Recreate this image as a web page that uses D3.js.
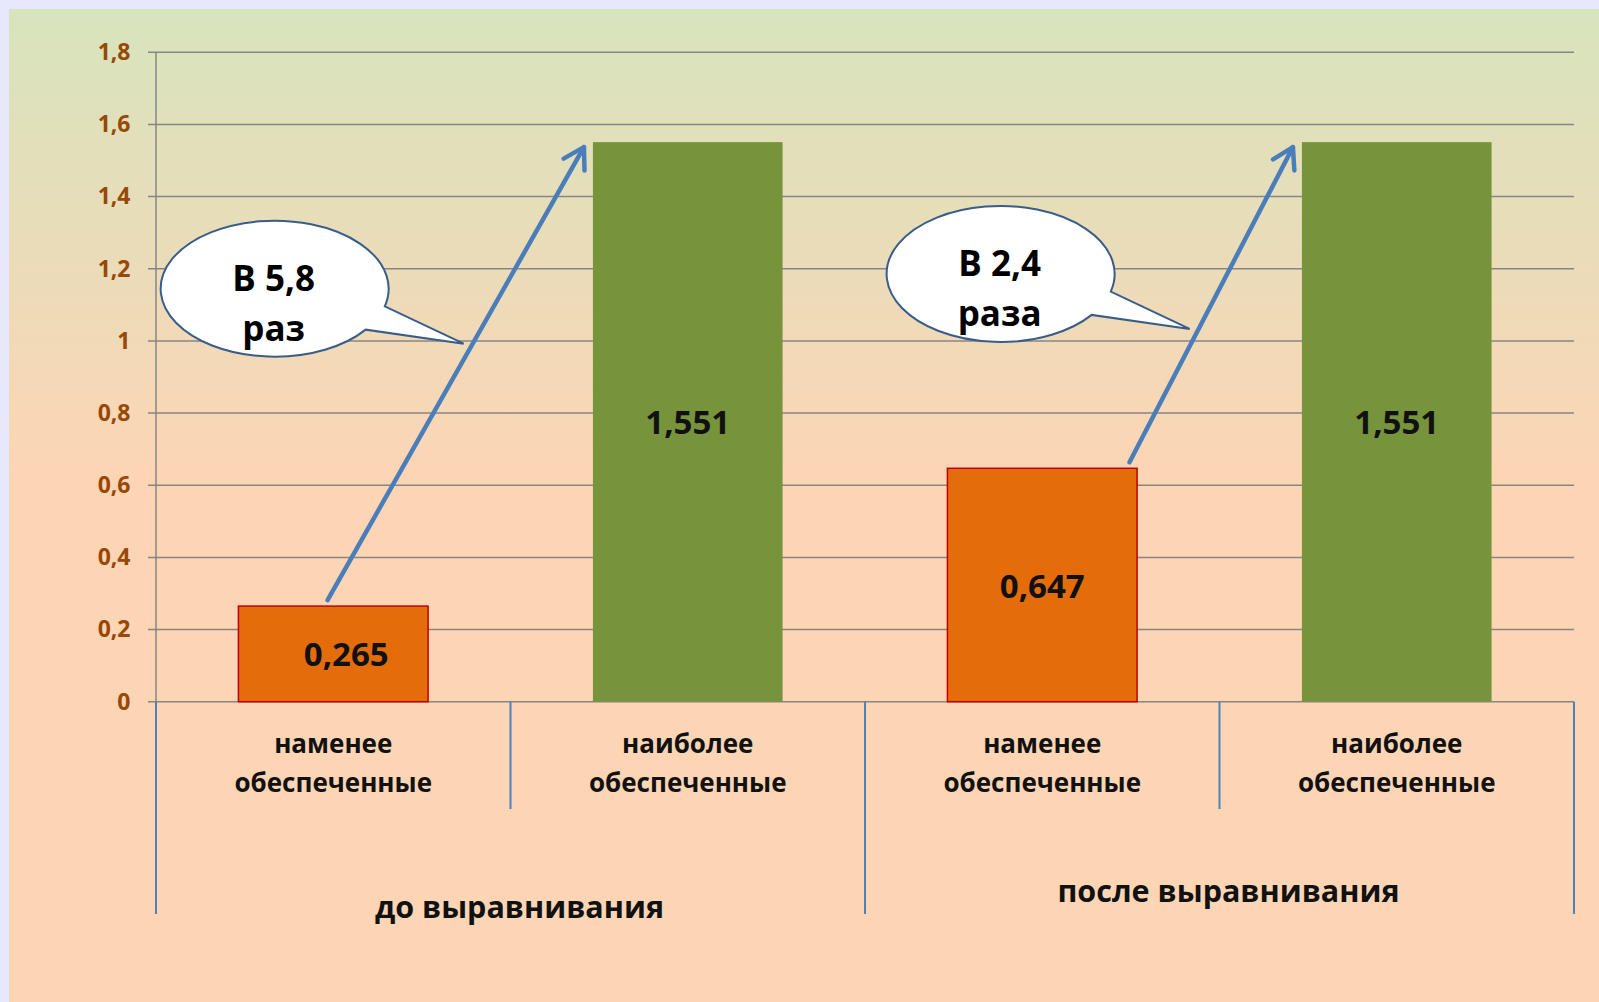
<!DOCTYPE html>
<meta charset="utf-8">
<style>
  body { margin: 0; background: #e8e8fc; }
  svg { display: block; font-family: "Open Sans", sans-serif; font-weight: bold; }
</style>
<svg width="1599" height="1002"></svg>
<script src="https://d3js.org/d3.v7.min.js"></script>
<script>

var groups = ["до выравнивания", "после выравнивания"],
    categories = ["наменее\nобеспеченные", "наиболее\nобеспеченные"],
    values = [0.265, 1.551, 0.647, 1.551],
    yTicks = [0, 0.2, 0.4, 0.6, 0.8, 1, 1.2, 1.4, 1.6, 1.8],
    callouts = ["В 5,8\nраз", "В 2,4\nраза"];

var svg = d3.select("svg"),
    width = +svg.attr("width"),
    height = +svg.attr("height"),
    plotLeft = 156, plotRight = 1574, plotTop = 52.3, zeroY = 701.7;

var locale = d3.formatLocale({decimal: ",", thousands: " ", grouping: [3], currency: ["", ""]}),
    fmtTick = locale.format("~g"),
    fmtValue = locale.format(".3f");

var rows = values.map(function(v, i) {
  return {i: i, value: v, group: groups[Math.floor(i / 2)], cat: categories[i % 2], low: i % 2 === 0};
});

var x = d3.scaleBand()
    .domain(d3.range(values.length))
    .range([plotLeft, plotRight])
    .paddingInner(0.465)
    .paddingOuter(0.2325);

var xGroup = d3.scaleBand().domain(groups).range([plotLeft, plotRight]);

var y = d3.scaleLinear().domain([0, 1.8]).range([zeroY, plotTop]);

// background panel
var defs = svg.append("defs");
var grad = defs.append("linearGradient").attr("id", "bg").attr("x1", 0).attr("y1", 0).attr("x2", 0).attr("y2", 1);
grad.append("stop").attr("offset", 0).attr("stop-color", "#d7e4bd");
grad.append("stop").attr("offset", 0.47).attr("stop-color", "#fcd5b5");
grad.append("stop").attr("offset", 1).attr("stop-color", "#fcd5b5");

svg.append("rect")
    .attr("x", 9).attr("y", 9)
    .attr("width", width - 9).attr("height", height - 9)
    .attr("fill", "url(#bg)");

defs.append("marker")
    .attr("id", "head")
    .attr("markerUnits", "userSpaceOnUse")
    .attr("viewBox", "-26 -16 30 32")
    .attr("refX", 0).attr("refY", 0)
    .attr("markerWidth", 30).attr("markerHeight", 32)
    .attr("orient", "auto")
  .append("path")
    .attr("d", "M-20,-12L0,0L-20,12")
    .attr("fill", "none")
    .attr("stroke", "#4a7ebb")
    .attr("stroke-width", 4.5)
    .attr("stroke-linecap", "round")
    .attr("stroke-linejoin", "round");

// gridlines
svg.append("g")
  .selectAll("line")
  .data(yTicks)
  .join("line")
    .attr("x1", plotLeft - 8).attr("x2", plotRight)
    .attr("y1", function(d) { return y(d); })
    .attr("y2", function(d) { return y(d); })
    .attr("stroke", "#868686")
    .attr("stroke-width", 1.5);

svg.append("line")
    .attr("x1", plotLeft).attr("x2", plotLeft)
    .attr("y1", y(1.8)).attr("y2", y(0))
    .attr("stroke", "#868686")
    .attr("stroke-width", 1.5);

// y labels
var yAxis = svg.append("g")
    .attr("transform", "translate(" + plotLeft + ",0)")
    .call(d3.axisLeft(y).tickValues(yTicks).tickFormat(fmtTick).tickSize(0).tickPadding(25.5));
yAxis.select(".domain").remove();
yAxis.selectAll("text")
    .attr("fill", "#984807")
    .style("font-size", "23px")
    .style("font-family", "'Open Sans', sans-serif")
    .style("font-weight", "bold");

// category / group separators
var step = x.step();
svg.append("g")
  .selectAll("line")
  .data(d3.range(values.length + 1))
  .join("line")
    .attr("x1", function(k) { return plotLeft + k * step; })
    .attr("x2", function(k) { return plotLeft + k * step; })
    .attr("y1", zeroY)
    .attr("y2", function(k) { return k % 2 === 0 ? 914 : 809; })
    .attr("stroke", "#4f81bd")
    .attr("stroke-width", 2);

// bars
svg.append("g")
  .selectAll("rect")
  .data(rows)
  .join("rect")
    .attr("x", function(d) { return x(d.i); })
    .attr("y", function(d) { return y(d.value); })
    .attr("width", x.bandwidth())
    .attr("height", function(d) { return y(0) - y(d.value); })
    .attr("fill", function(d) { return d.low ? "#e46c0a" : "#77933c"; })
    .attr("stroke", function(d) { return d.low ? "#c00000" : "none"; })
    .attr("stroke-width", 1.5);

// value labels (first one sits a bit right of centre, as in the slide)
var labelDx = [13, 0, 0, 0];
svg.append("g")
  .selectAll("text")
  .data(rows)
  .join("text")
    .attr("x", function(d) { return x(d.i) + x.bandwidth() / 2 + labelDx[d.i]; })
    .attr("y", function(d) { return (y(d.value) + y(0)) / 2; })
    .attr("dy", "0.38em")
    .attr("text-anchor", "middle")
    .attr("font-size", 33)
    .attr("fill", "#111")
    .text(function(d) { return fmtValue(d.value); });

// category labels
var catText = svg.append("g")
  .selectAll("text")
  .data(rows)
  .join("text")
    .attr("text-anchor", "middle")
    .attr("font-size", 26)
    .attr("fill", "#111");
catText.selectAll("tspan")
  .data(function(d) { return d.cat.split("\n").map(function(s) { return {s: s, cx: x(d.i) + x.bandwidth() / 2}; }); })
  .join("tspan")
    .attr("x", function(d) { return d.cx; })
    .attr("y", function(d, j) { return j === 0 ? 752.7 : 791.5; })
    .text(function(d) { return d.s; });

// group labels
var groupY = [918, 902];
svg.append("g")
  .selectAll("text")
  .data(groups)
  .join("text")
    .attr("x", function(d) { return xGroup(d) + xGroup.bandwidth() / 2 + 9; })
    .attr("y", function(d, i) { return groupY[i]; })
    .attr("text-anchor", "middle")
    .attr("font-size", 30.5)
    .attr("fill", "#111")
    .text(function(d) { return d; });

// arrows from lower bar to higher bar
var startFrac = [0.47, 0.96],
    calloutT = [0.566, 0.423];

var arrows = [0, 1].map(function(k) {
  var lo = rows[k * 2], hi = rows[k * 2 + 1];
  return {
    x1: x(lo.i) + x.bandwidth() * startFrac[k],
    y1: y(lo.value) - 6,
    x2: x(hi.i) - 9,
    y2: y(hi.value) + 5,
    text: callouts[k],
    t: calloutT[k]
  };
});

svg.append("g")
  .selectAll("line")
  .data(arrows)
  .join("line")
    .attr("x1", function(d) { return d.x1; })
    .attr("y1", function(d) { return d.y1; })
    .attr("x2", function(d) { return d.x2; })
    .attr("y2", function(d) { return d.y2; })
    .attr("stroke", "#4a7ebb")
    .attr("stroke-width", 4.5)
    .attr("stroke-linecap", "round")
    .attr("marker-end", "url(#head)");

// speech-bubble callouts
var rx = 114, ry = 68, a1 = 15 * Math.PI / 180, a2 = 37 * Math.PI / 180;

function bubble(d) {
  var tipX = d.x1 + (d.x2 - d.x1) * d.t - 9,
      tipY = d.y1 + (d.y2 - d.y1) * d.t,
      cx = tipX - 189, cy = tipY - 55;
  d.cx = cx; d.cy = cy;
  var ax = cx + rx * Math.cos(a1), ay = cy + ry * Math.sin(a1),
      bx = cx + rx * Math.cos(a2), by = cy + ry * Math.sin(a2);
  return "M" + ax + "," + ay +
    "A" + rx + "," + ry + " 0 1 0 " + bx + "," + by +
    "L" + tipX + "," + tipY + "Z";
}

var bub = svg.append("g")
  .selectAll("g")
  .data(arrows)
  .join("g");

bub.append("path")
    .attr("d", bubble)
    .attr("fill", "#fff")
    .attr("stroke", "#385d8a")
    .attr("stroke-width", 2);

bub.append("text")
    .attr("text-anchor", "middle")
    .attr("font-size", 35)
    .attr("fill", "#000")
  .selectAll("tspan")
  .data(function(d) { return d.text.split("\n").map(function(s) { return {s: s, cx: d.cx, cy: d.cy}; }); })
  .join("tspan")
    .attr("x", function(d) { return d.cx - 1; })
    .attr("y", function(d, j) { return d.cy + (j === 0 ? 2 : 52); })
    .text(function(d) { return d.s; });

</script>
